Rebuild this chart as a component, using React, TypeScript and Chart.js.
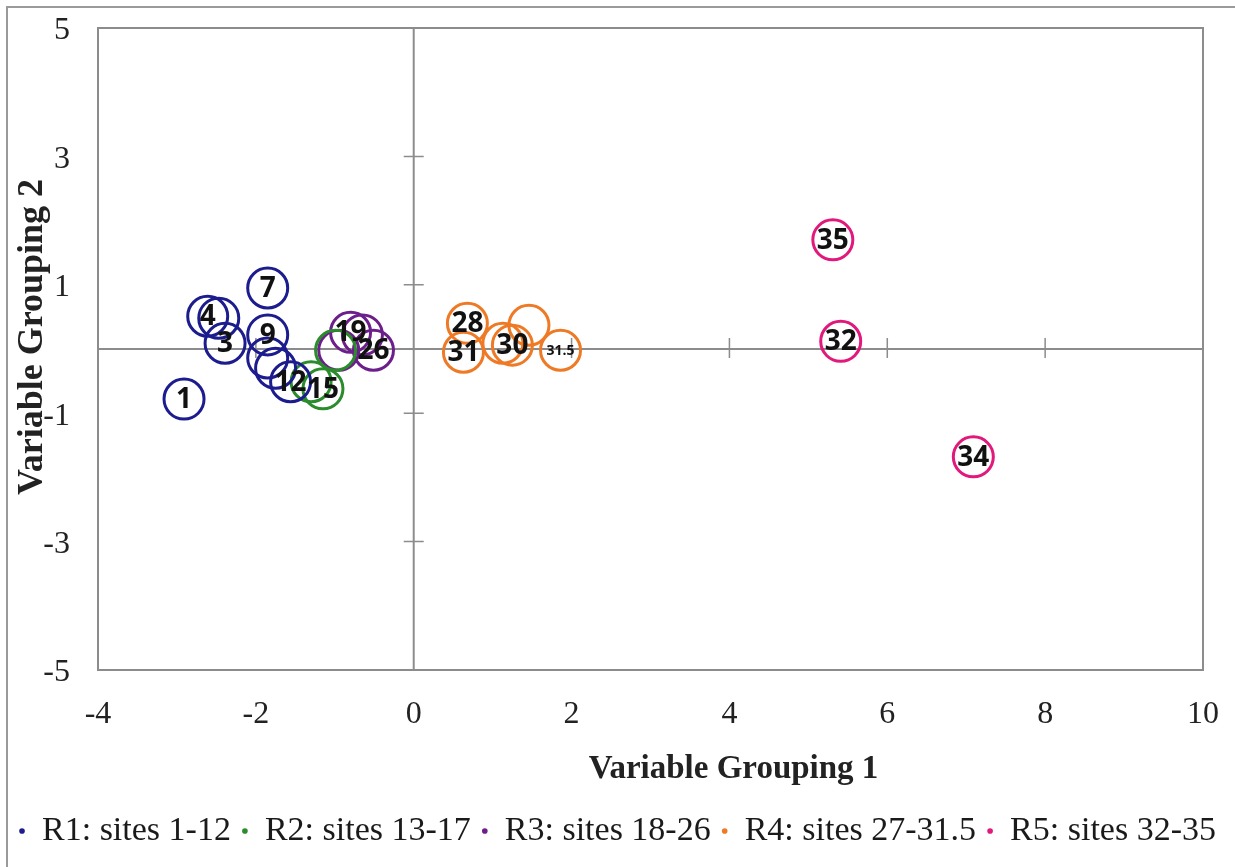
import React, { useEffect, useRef } from "react";
import { Chart, registerables } from "chart.js";

Chart.register(...registerables);

// ---- data ----
const xTicks = [-4, -2, 0, 2, 4, 6, 8, 10];
const yTicks = [-5, -3, -1, 1, 3, 5];
const xTitle = "Variable Grouping 1";
const yTitle = "Variable Grouping 2";

const seriesNames = [
  "R1: sites 1-12",
  "R2: sites 13-17",
  "R3: sites 18-26",
  "R4: sites 27-31.5",
  "R5: sites 32-35",
];
const seriesColors = ["#1c1c8e", "#2a8c2a", "#6c1e8a", "#ee7a26", "#e2197c"];

const r1X = [-2.91, -2.61, -2.47, -2.39, -1.85, -1.85, -1.85, -1.75, -1.56];
const r1Y = [-0.78, 0.51, 0.48, 0.09, 0.95, 0.22, -0.14, -0.3, -0.51];
const r1Labels = ["1", "4", "", "3", "7", "9", "", "", "12"];

const r2X = [-1.3, -1.15, -0.99];
const r2Y = [-0.51, -0.62, -0.02];
const r2Labels = ["", "15", ""];

const r3X = [-0.95, -0.8, -0.65, -0.51];
const r3Y = [-0.02, 0.26, 0.22, -0.02];
const r3Labels = ["", "19", "", "26"];

const r4X = [0.68, 0.63, 1.13, 1.46, 1.25, 1.86];
const r4Y = [0.4, -0.05, 0.09, 0.37, 0.06, -0.02];
const r4Labels = ["28", "31", "", "", "30", "31.5"];

const r5X = [5.31, 5.41, 7.09];
const r5Y = [1.7, 0.12, -1.68];
const r5Labels = ["35", "32", "34"];

const allX = [r1X, r2X, r3X, r4X, r5X];
const allY = [r1Y, r2Y, r3Y, r4Y, r5Y];
const allLabels = [r1Labels, r2Labels, r3Labels, r4Labels, r5Labels];

const GRAY = "#8c8c8c";
const SERIF = "'Liberation Serif', 'Times New Roman', serif";

const framePlugin = {
  id: "frame",
  beforeDraw(chart: any) {
    const { ctx, width, height } = chart;
    ctx.save();
    ctx.fillStyle = "#ffffff";
    ctx.fillRect(0, 0, width, height);
    ctx.strokeStyle = "#9a9a9a";
    ctx.lineWidth = 2;
    ctx.beginPath();
    ctx.moveTo(7, height);
    ctx.lineTo(7, 7);
    ctx.lineTo(width, 7);
    ctx.stroke();
    ctx.restore();
  },
  beforeDatasetsDraw(chart: any) {
    const { ctx, chartArea } = chart;
    const xs = chart.scales.x;
    const ys = chart.scales.y;
    ctx.save();
    ctx.strokeStyle = GRAY;
    ctx.lineWidth = 2;
    ctx.strokeRect(chartArea.left, chartArea.top, chartArea.right - chartArea.left, chartArea.bottom - chartArea.top);
    const x0 = xs.getPixelForValue(0);
    const y0 = ys.getPixelForValue(0);
    ctx.beginPath();
    ctx.moveTo(x0, chartArea.top);
    ctx.lineTo(x0, chartArea.bottom);
    ctx.moveTo(chartArea.left, y0);
    ctx.lineTo(chartArea.right, y0);
    ctx.stroke();
    ctx.lineWidth = 1.5;
    ctx.beginPath();
    xTicks.forEach((v) => {
      if (v === 0 || v === xTicks[0] || v === xTicks[xTicks.length - 1]) return;
      const px = xs.getPixelForValue(v);
      ctx.moveTo(px, y0 - 11);
      ctx.lineTo(px, y0 + 9);
    });
    yTicks.forEach((v) => {
      if (v === yTicks[0] || v === yTicks[yTicks.length - 1]) return;
      const py = ys.getPixelForValue(v);
      ctx.moveTo(x0 - 10, py);
      ctx.lineTo(x0 + 10, py);
    });
    ctx.stroke();
    ctx.restore();
  },
  afterDatasetsDraw(chart: any) {
    const { ctx } = chart;
    ctx.save();
    ctx.fillStyle = "#111111";
    ctx.textAlign = "center";
    ctx.textBaseline = "middle";
    chart.data.datasets.forEach((ds: any, di: number) => {
      const meta = chart.getDatasetMeta(di);
      const labels = allLabels[di];
      meta.data.forEach((el: any, i: number) => {
        const t = labels[i];
        if (!t) return;
        ctx.font = t.length > 2 ? "bold 14px 'Open Sans', sans-serif" : "bold 28px 'Open Sans', sans-serif";
        ctx.fillText(t, el.x, el.y + 1);
      });
    });
    ctx.restore();
  },
  afterDraw(chart: any) {
    const { ctx, chartArea } = chart;
    ctx.save();
    ctx.fillStyle = "#222";
    ctx.textAlign = "center";
    ctx.textBaseline = "middle";
    // x-axis title (sits right of centre, as in the original layout)
    ctx.font = `bold 33px ${SERIF}`;
    ctx.fillText(xTitle, (chartArea.left + chartArea.right) / 2 + 83, chartArea.bottom + 99);
    // y-axis title
    ctx.font = `bold 36px ${SERIF}`;
    ctx.translate(33, (chartArea.top + chartArea.bottom) / 2 - 12);
    ctx.rotate(-Math.PI / 2);
    ctx.fillText(yTitle, 0, 0);
    ctx.restore();
  },
};

export default function App() {
  const ref = useRef<HTMLCanvasElement | null>(null);

  useEffect(() => {
    if (!ref.current) return;
    const datasets = seriesNames.map((name, si) => ({
      label: name,
      data: allX[si].map((x, i) => ({ x, y: allY[si][i] })),
      borderColor: seriesColors[si],
      backgroundColor: "rgba(0,0,0,0)",
      pointRadius: 20,
      pointHoverRadius: 20,
      pointBorderWidth: 3,
      pointStyle: "circle",
      showLine: false,
    }));

    const chart = new Chart(ref.current, {
      type: "scatter",
      data: { datasets },
      plugins: [framePlugin],
      options: {
        animation: false,
        responsive: false,
        devicePixelRatio: 1,
        layout: { padding: { top: 28, right: 0, left: 0, bottom: 9 } },
        scales: {
          x: {
            type: "linear",
            min: -4,
            max: 10,
            afterBuildTicks: (s: any) => {
              s.ticks = xTicks.map((v) => ({ value: v }));
            },
            afterFit: (s: any) => {
              s.height = 133;
              s.paddingLeft = 0;
              s.paddingRight = 0;
            },
            grid: { display: false, drawTicks: false },
            border: { display: false },
            ticks: {
              color: "#222",
              padding: 25,
              maxRotation: 0,
              font: { family: SERIF, size: 32 },
            },
            title: { display: false },
          },
          y: {
            type: "linear",
            min: -5,
            max: 5,
            afterBuildTicks: (s: any) => {
              s.ticks = yTicks.map((v) => ({ value: v }));
            },
            afterFit: (s: any) => {
              s.width = 98;
              s.paddingTop = 0;
              s.paddingBottom = 0;
            },
            grid: { display: false, drawTicks: false },
            border: { display: false },
            ticks: {
              color: "#222",
              padding: 28,
              labelOffset: 3,
              font: { family: SERIF, size: 32 },
            },
            title: { display: false },
          },
          yRightSpace: {
            type: "linear",
            position: "right",
            min: 0,
            max: 1,
            display: true,
            grid: { display: false, drawTicks: false },
            border: { display: false },
            ticks: { display: false },
            afterFit: (s: any) => {
              s.width = 32;
              s.paddingTop = 0;
              s.paddingBottom = 0;
            },
          },
        },
        plugins: {
          tooltip: { enabled: false },
          legend: {
            display: true,
            position: "bottom",
            align: "center",
            labels: {
              usePointStyle: true,
              boxWidth: 6,
              boxHeight: 4,
              padding: 11,
              color: "#1a1a1a",
              font: { family: SERIF, size: 34 },
              generateLabels: (c: any) =>
                Chart.defaults.plugins.legend.labels.generateLabels(c).map((l: any) => ({
                  ...l,
                  fillStyle: l.strokeStyle,
                  lineWidth: 0,
                })),
            },
          },
        },
      } as any,
    });
    return () => chart.destroy();
  }, []);

  return (
    <div style={{ position: "absolute", left: 0, top: 0, width: 1235, height: 867 }}>
      <canvas ref={ref} width={1235} height={867} />
    </div>
  );
}
